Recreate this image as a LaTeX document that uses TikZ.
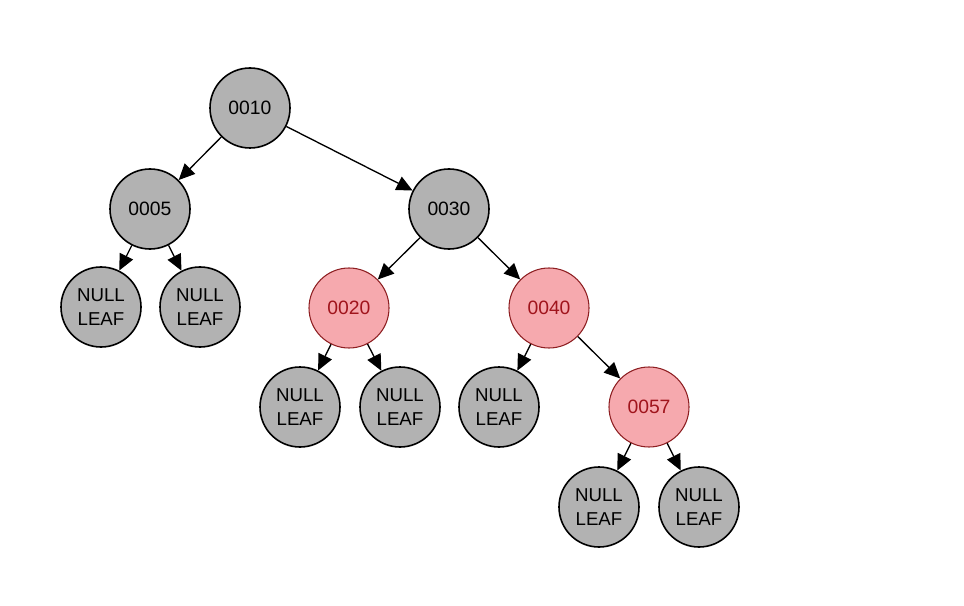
\documentclass[tikz,border=0pt]{standalone}
\usepackage{fontspec}
\setmainfont{Liberation Sans}
\usetikzlibrary{arrows.meta}
\definecolor{nodegray}{HTML}{B2B2B2}
\definecolor{nodepink}{HTML}{F6A9AE}
\definecolor{pinkline}{HTML}{8E1F22}
\definecolor{pinktext}{HTML}{A0141C}
\tikzset{
  blacknode/.style={circle, draw=black, line width=1.2pt, fill=nodegray, minimum size=60pt, inner sep=0pt, font=\fontsize{14.5}{16}\selectfont, text=black},
  rednode/.style={circle, draw=pinkline, line width=0.8pt, fill=nodepink, minimum size=60pt, inner sep=0pt, font=\fontsize{14.5}{16}\selectfont, text=pinktext},
  leafnode/.style={blacknode, align=center, font=\fontsize{14}{17.5}\selectfont},
  edge/.style={draw=black, line width=1pt, -{Triangle[length=12pt,width=11pt]}}
}
\begin{document}
\begin{tikzpicture}[x=0.75pt,y=-0.75pt]
\useasboundingbox (0,0) rectangle (964,606);
\fill[white] (0,0) rectangle (964,606);
\node[blacknode] (n10) at (250,108) {0010};
\node[blacknode] (n05) at (150,209) {0005};
\node[blacknode] (n30) at (449,209) {0030};
\node[leafnode] (l1) at (101,307) {NULL\\LEAF};
\node[leafnode] (l2) at (200,307) {NULL\\LEAF};
\node[rednode] (n20) at (349,308) {0020};
\node[rednode] (n40) at (549,308) {0040};
\node[leafnode] (l3) at (300,407) {NULL\\LEAF};
\node[leafnode] (l4) at (400,407) {NULL\\LEAF};
\node[leafnode] (l5) at (499,407) {NULL\\LEAF};
\node[rednode] (n57) at (649,407) {0057};
\node[leafnode] (l6) at (599,507) {NULL\\LEAF};
\node[leafnode] (l7) at (699,507) {NULL\\LEAF};
\draw[edge] (n10) -- (n05);
\draw[edge] (n10) -- (n30);
\draw[edge] (n05) -- (l1);
\draw[edge] (n05) -- (l2);
\draw[edge] (n30) -- (n20);
\draw[edge] (n30) -- (n40);
\draw[edge] (n20) -- (l3);
\draw[edge] (n20) -- (l4);
\draw[edge] (n40) -- (l5);
\draw[edge] (n40) -- (n57);
\draw[edge] (n57) -- (l6);
\draw[edge] (n57) -- (l7);
\end{tikzpicture}
\end{document}
